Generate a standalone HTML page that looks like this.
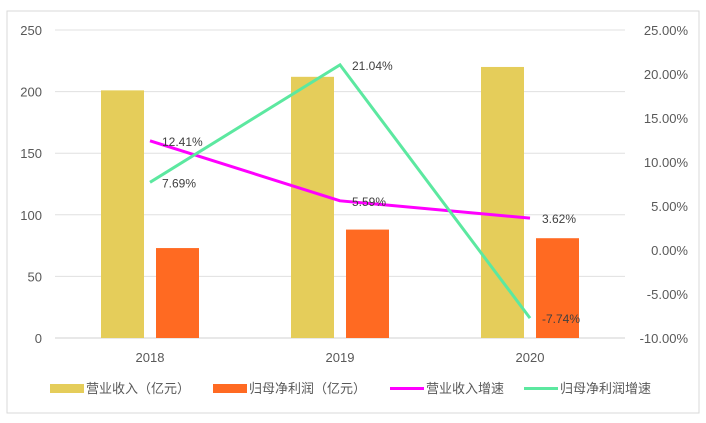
<!DOCTYPE html>
<html><head><meta charset="utf-8"><style>
html,body{margin:0;padding:0;background:#fff;}
svg{display:block;font-family:"Liberation Sans","Noto Sans CJK SC",sans-serif;}
</style></head><body>
<svg id="chart" width="706" height="423">
<rect x="7" y="11" width="692" height="402" fill="#fff" stroke="#d9d9d9"/>
<g id="grid"></g><g id="bars"></g><g id="lines"></g><g id="labels"></g><g id="axes"></g>
<g id="legend">
 <rect x="50" y="384" width="34" height="9" fill="#e5cd5a"/>
 <text x="86" y="393" font-size="13" fill="#595959">营业收入（亿元）</text>
 <rect x="213" y="384" width="34" height="9" fill="#ff6a22"/>
 <text x="249" y="393" font-size="13" fill="#595959">归母净利润（亿元）</text>
 <line x1="390" y1="388.5" x2="424" y2="388.5" stroke="#ff00ff" stroke-width="3"/>
 <text x="426" y="393" font-size="13" fill="#595959">营业收入增速</text>
 <line x1="524" y1="388.5" x2="558" y2="388.5" stroke="#5ce8a0" stroke-width="3"/>
 <text x="560" y="393" font-size="13" fill="#595959">归母净利润增速</text>
</g>
</svg>
<script>
const categories=["2018","2019","2020"];
const revenue=[201,212,220];
const profit=[73,88,81];
const revenueGrowth=[12.41,5.59,3.62];
const profitGrowth=[7.69,21.04,-7.74];
const leftTicks=[0,50,100,150,200,250];
const rightTicks=[-10,-5,0,5,10,15,20,25];

const NS="http://www.w3.org/2000/svg";
const X0=55,X1=625,YT=30,YB=338;
const band=(X1-X0)/categories.length;
const xC=i=>X0+band*(i+0.5);
const yL=v=>YB-(v/250)*(YB-YT);
const yR=v=>YB-((v+10)/35)*(YB-YT);
function mk(parent,tag,attrs){const e=document.createElementNS(NS,tag);for(const k in attrs)e.setAttribute(k,attrs[k]);document.getElementById(parent).appendChild(e);return e;}

leftTicks.forEach(t=>{
 const g=mk("grid","line",{x1:X0,x2:X1,y1:yL(t),y2:yL(t),stroke:t===0?"#d0d0d0":"#e0e0e0","stroke-width":1});
 
 
 const tx=mk("axes","text",{x:42,y:yL(t)+5,"text-anchor":"end","font-size":"13",fill:"#595959"});
 tx.textContent=t;
 
 
});
rightTicks.forEach(t=>{
 const tx=mk("axes","text",{x:688,y:yR(t)+5,"text-anchor":"end","font-size":"13",fill:"#595959"});
 tx.textContent=t.toFixed(2)+"%";
 
 
});
categories.forEach((c,i)=>{
 const tx=mk("axes","text",{x:xC(i),y:362,"text-anchor":"middle","font-size":"13",fill:"#595959"});
 tx.textContent=c;
 
 
 const b1=mk("bars","rect",{x:xC(i)-49,y:yL(revenue[i]),width:43,height:YB-yL(revenue[i]),fill:"#e5cd5a"});
 
 
 const b2=mk("bars","rect",{x:xC(i)+6,y:yL(profit[i]),width:43,height:YB-yL(profit[i]),fill:"#ff6a22"});
 
 
});
const p1=mk("lines","polyline",{points:revenueGrowth.map((v,i)=>xC(i)+","+yR(v)).join(" "),fill:"none",stroke:"#ff00ff","stroke-width":3,"stroke-linejoin":"round"});


const p2=mk("lines","polyline",{points:profitGrowth.map((v,i)=>xC(i)+","+yR(v)).join(" "),fill:"none",stroke:"#5ce8a0","stroke-width":3,"stroke-linejoin":"miter"});


revenueGrowth.forEach((v,i)=>{
 const tx=mk("labels","text",{x:xC(i)+12,y:yR(v)+5,"font-size":"12",fill:"#404040"});
 tx.textContent=v.toFixed(2)+"%";
 
 
});
profitGrowth.forEach((v,i)=>{
 const tx=mk("labels","text",{x:xC(i)+12,y:yR(v)+5,"font-size":"12",fill:"#404040"});
 tx.textContent=v.toFixed(2)+"%";
 
 
});
</script>
</body></html>
